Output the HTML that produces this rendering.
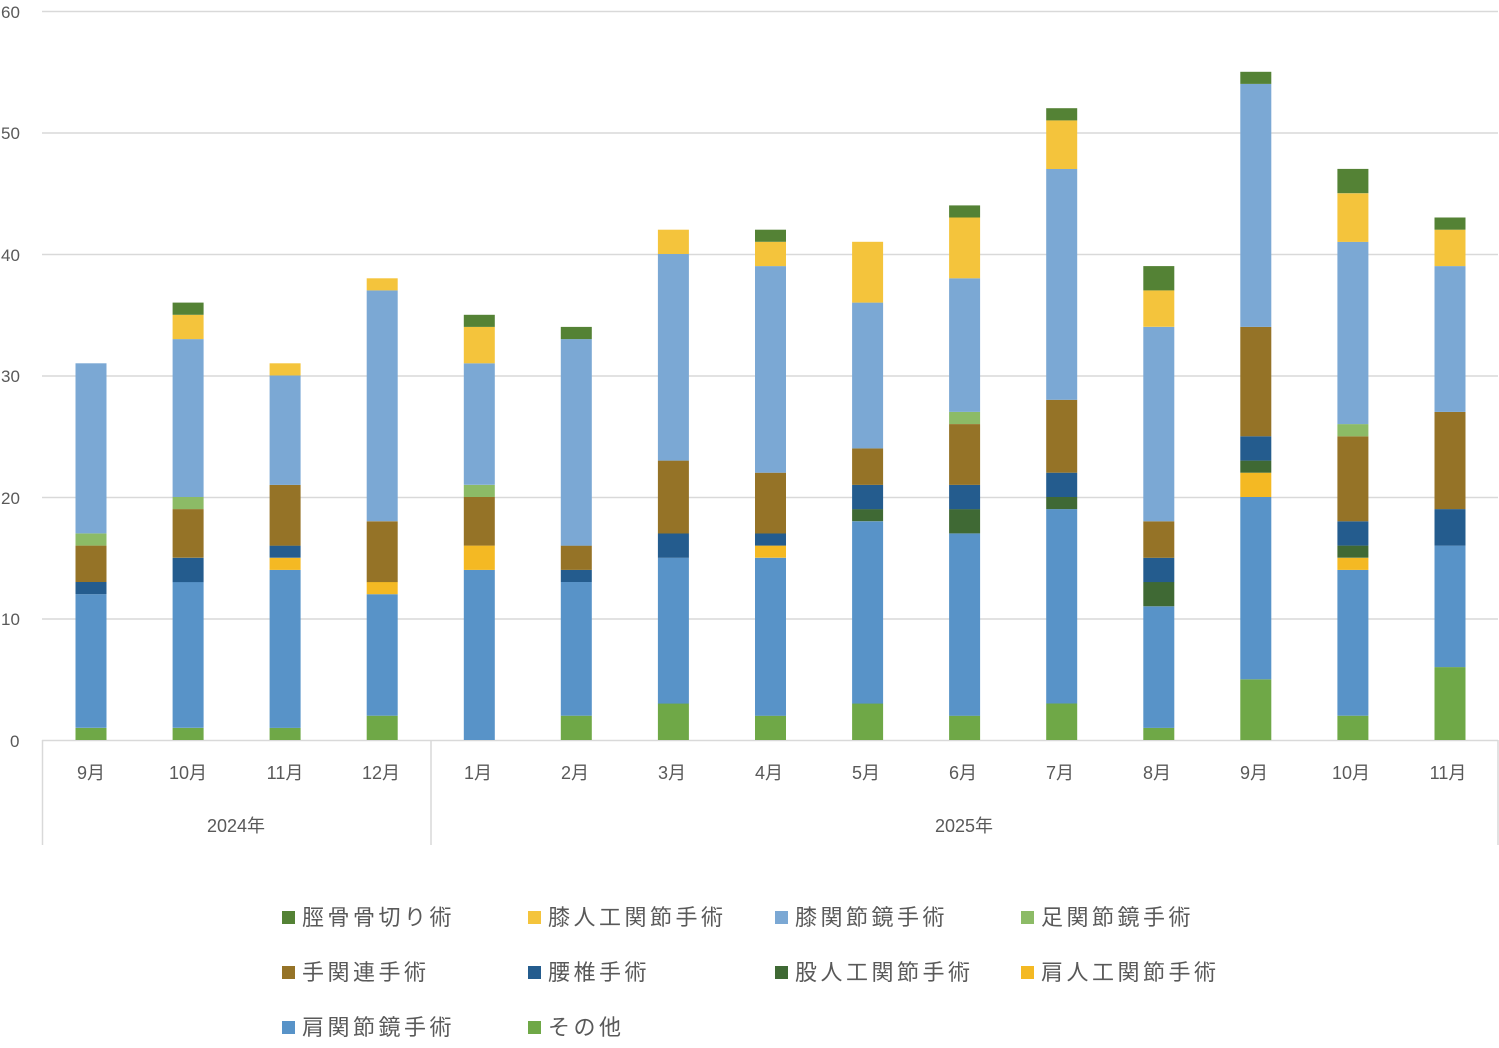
<!DOCTYPE html>
<html><head><meta charset="utf-8"><style>
body{margin:0;background:#fff;}
svg text{font-family:"Liberation Sans","Noto Sans CJK JP",sans-serif;fill:#595959;}
.lg text{letter-spacing:3.5px;}
</style></head><body>
<svg id="s" width="1499" height="1043" xmlns="http://www.w3.org/2000/svg">
<g stroke="#d9d9d9" stroke-width="1.5">
<line x1="42" x2="1498" y1="11.5" y2="11.5"/>
<line x1="42" x2="1498" y1="133" y2="133"/>
<line x1="42" x2="1498" y1="254.5" y2="254.5"/>
<line x1="42" x2="1498" y1="376" y2="376"/>
<line x1="42" x2="1498" y1="497.5" y2="497.5"/>
<line x1="42" x2="1498" y1="619" y2="619"/>
<line x1="42" x2="1498" y1="740.5" y2="740.5"/>
<line x1="42.5" x2="42.5" y1="740" y2="845"/>
<line x1="431" x2="431" y1="740" y2="845"/>
<line x1="1498" x2="1498" y1="740" y2="845"/>
</g>
<g font-size="17">
<text x="1" y="18">60</text>
<text x="1" y="139">50</text>
<text x="1" y="261">40</text>
<text x="1" y="382">30</text>
<text x="1" y="504">20</text>
<text x="1" y="625">10</text>
<text x="10" y="747">0</text>
</g>
<g id="bars"></g>
<g font-size="18" text-anchor="middle">
<text x="91" y="779">9月</text><text x="188" y="779">10月</text><text x="285" y="779">11月</text><text x="381" y="779">12月</text>
<text x="478" y="779">1月</text><text x="575" y="779">2月</text><text x="672" y="779">3月</text><text x="769" y="779">4月</text>
<text x="866" y="779">5月</text><text x="963" y="779">6月</text><text x="1060" y="779">7月</text><text x="1157" y="779">8月</text>
<text x="1254" y="779">9月</text><text x="1351" y="779">10月</text><text x="1448" y="779">11月</text>
<text x="236" y="832">2024年</text><text x="964" y="832">2025年</text>
</g>
<g font-size="22" class="lg">
<rect x="282" y="911" width="13" height="13" fill="#548235"/><text x="302" y="925">脛骨骨切り術</text>
<rect x="528" y="911" width="13" height="13" fill="#F4C43C"/><text x="548" y="925">膝人工関節手術</text>
<rect x="775" y="911" width="13" height="13" fill="#7BA8D4"/><text x="795" y="925">膝関節鏡手術</text>
<rect x="1021" y="911" width="13" height="13" fill="#8CBB66"/><text x="1041" y="925">足関節鏡手術</text>
<rect x="282" y="966" width="13" height="13" fill="#957327"/><text x="302" y="980">手関連手術</text>
<rect x="528" y="966" width="13" height="13" fill="#245C8E"/><text x="548" y="980">腰椎手術</text>
<rect x="775" y="966" width="13" height="13" fill="#3F6934"/><text x="795" y="980">股人工関節手術</text>
<rect x="1021" y="966" width="13" height="13" fill="#F4B923"/><text x="1041" y="980">肩人工関節手術</text>
<rect x="282" y="1021" width="13" height="13" fill="#5893C8"/><text x="302" y="1035">肩関節鏡手術</text>
<rect x="528" y="1021" width="13" height="13" fill="#6FA847"/><text x="548" y="1035">その他</text>
</g>
</svg>
<script>
var cols=["#6FA847","#5893C8","#F4B923","#3F6934","#245C8E","#957327","#8CBB66","#7BA8D4","#F4C43C","#548235"];
var d=[
[1,11,0,0,1,3,1,14,0,0],
[1,12,0,0,2,4,1,13,2,1],
[1,13,1,0,1,5,0,9,1,0],
[2,10,1,0,0,5,0,19,1,0],
[0,14,2,0,0,4,1,10,3,1],
[2,11,0,0,1,2,0,17,0,1],
[3,12,0,0,2,6,0,17,2,0],
[2,13,1,0,1,5,0,17,2,1],
[3,15,0,1,2,3,0,12,5,0],
[2,15,0,2,2,5,1,11,5,1],
[3,16,0,1,2,6,0,19,4,1],
[1,10,0,2,2,3,0,16,3,2],
[5,15,2,1,2,9,0,20,0,1],
[2,12,1,1,2,7,1,15,4,2],
[6,10,0,0,3,8,0,12,3,1]];
var g=document.getElementById("bars"),u=729/60,h="";
d.forEach(function(r,i){var cx=91+i*97.07,c=0;r.forEach(function(v,k){if(!v)return;var y0=740-c*u;c+=v;var y1=740-c*u;
h+='<rect x="'+(cx-15.5).toFixed(1)+'" y="'+y1.toFixed(1)+'" width="31" height="'+(y0-y1).toFixed(1)+'" fill="'+cols[k]+'"/>';});});
g.innerHTML=h;
</script>
</body></html>
